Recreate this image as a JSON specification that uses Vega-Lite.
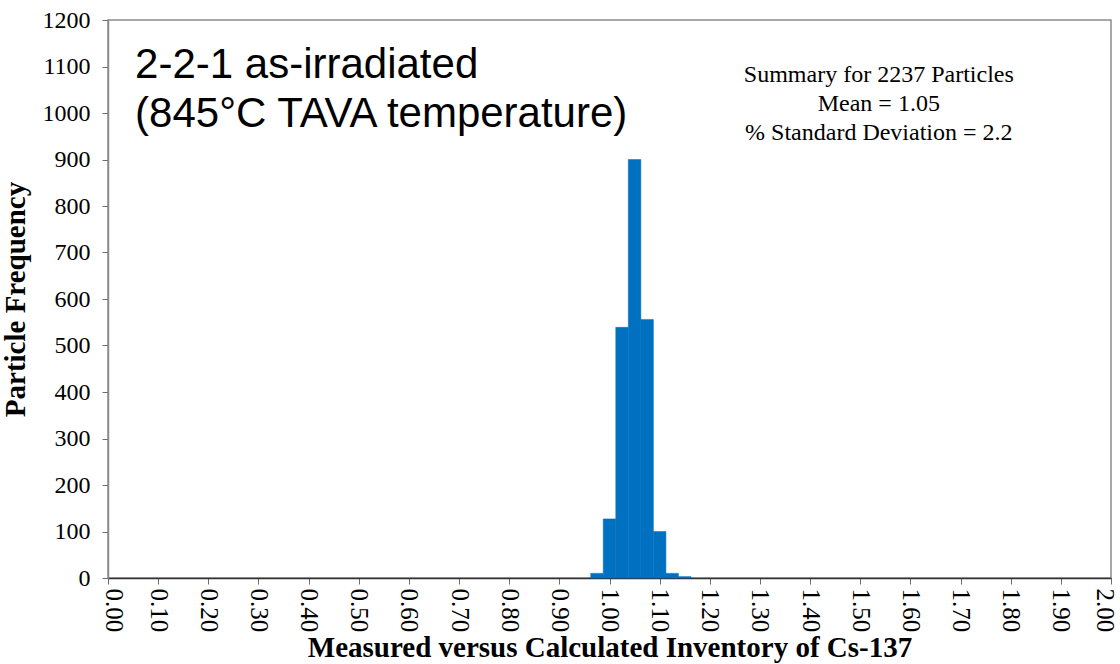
{
  "$schema": "https://vega.github.io/schema/vega-lite/v6.json",
  "width": 1003,
  "height": 558,
  "autosize": "none",
  "padding": {"left": 108, "top": 20, "right": 9, "bottom": 86},
  "background": "white",
  "config": {
    "view": {"stroke": "#8c8c8c", "strokeWidth": 1.5},
    "axis": {"grid": false, "labelFont": "Liberation Serif", "titleFont": "Liberation Serif", "labelColor": "black", "titleColor": "black", "domainColor": "#8c8c8c", "tickColor": "#6e6e6e", "domainWidth": 1.5}
  },
  "datasets": {
    "bins": [
      {"start": 0.9625, "end": 0.9875, "count": 10},
      {"start": 0.9875, "end": 1.0125, "count": 127},
      {"start": 1.0125, "end": 1.0375, "count": 539},
      {"start": 1.0375, "end": 1.0625, "count": 900},
      {"start": 1.0625, "end": 1.0875, "count": 556},
      {"start": 1.0875, "end": 1.1125, "count": 100},
      {"start": 1.1125, "end": 1.1375, "count": 10},
      {"start": 1.1375, "end": 1.1625, "count": 3}
    ],
    "summary": [
      {"x": 1.537, "y": 1081, "label": "Summary for 2237 Particles"},
      {"x": 1.537, "y": 1020, "label": "Mean = 1.05"},
      {"x": 1.537, "y": 958, "label": "% Standard Deviation = 2.2"}
    ],
    "heading": [
      {"x": 0.054, "y": 1103, "label": "2-2-1 as-irradiated"},
      {"x": 0.054, "y": 997, "label": "(845°C TAVA temperature)"}
    ]
  },
  "layer": [
    {
      "data": {"name": "bins"},
      "mark": {"type": "bar", "color": "#0070C0", "stroke": "#0070C0", "strokeWidth": 0.5},
      "encoding": {
        "x": {
          "field": "start", "type": "quantitative",
          "scale": {"domain": [0, 2], "nice": false, "zero": false},
          "axis": {
            "values": [0,0.025,0.05,0.075,0.1,0.125,0.15,0.175,0.2,0.225,0.25,0.275,0.3,0.325,0.35,0.375,0.4,0.425,0.45,0.475,0.5,0.525,0.55,0.575,0.6,0.625,0.65,0.675,0.7,0.725,0.75,0.775,0.8,0.825,0.85,0.875,0.9,0.925,0.95,0.975,1,1.025,1.05,1.075,1.1,1.125,1.15,1.175,1.2,1.225,1.25,1.275,1.3,1.325,1.35,1.375,1.4,1.425,1.45,1.475,1.5,1.525,1.55,1.575,1.6,1.625,1.65,1.675,1.7,1.725,1.75,1.775,1.8,1.825,1.85,1.875,1.9,1.925,1.95,1.975,2],
            "labelExpr": "abs(datum.value*10 - round(datum.value*10)) < 0.001 ? format(datum.value, '.2f') : ''",
            "labelAngle": 90,
            "labelAlign": "left",
            "labelBaseline": "middle",
            "labelFontSize": 25,
            "labelPadding": 4,
            "labelOffset": {"condition": [{"test": "datum.value > 1.99", "value": -7}, {"test": "datum.value < 0.01", "value": 5}], "value": 0},
            "labelOverlap": false,
            "labelBound": false,
            "labelFlush": false,
            "tickSize": 6,
            "domainColor": "#333333",
            "title": "Measured versus Calculated Inventory of Cs-137",
            "titleFontSize": 29,
            "titleFontWeight": "bold",
            "titlePadding": 2
          }
        },
        "x2": {"field": "end"},
        "y": {
          "field": "count", "type": "quantitative",
          "scale": {"domain": [0, 1200], "nice": false},
          "axis": {
            "values": [0,100,200,300,400,500,600,700,800,900,1000,1100,1200],
            "format": "d",
            "labelFontSize": 24,
            "labelPadding": 12,
            "tickSize": 6,
            "title": "Particle Frequency",
            "titleFontSize": 29,
            "titleFontWeight": "bold",
            "titlePadding": 12
          }
        },
        "y2": {"datum": 0}
      }
    },
    {
      "data": {"name": "summary"},
      "mark": {"type": "text", "font": "Liberation Serif", "fontSize": 24, "align": "center", "baseline": "middle", "color": "black"},
      "encoding": {
        "x": {"field": "x", "type": "quantitative"},
        "y": {"field": "y", "type": "quantitative"},
        "text": {"field": "label"}
      }
    },
    {
      "data": {"name": "heading"},
      "mark": {"type": "text", "font": "Liberation Sans", "fontSize": 42, "align": "left", "baseline": "middle", "color": "black"},
      "encoding": {
        "x": {"field": "x", "type": "quantitative"},
        "y": {"field": "y", "type": "quantitative"},
        "text": {"field": "label"}
      }
    }
  ]
}
